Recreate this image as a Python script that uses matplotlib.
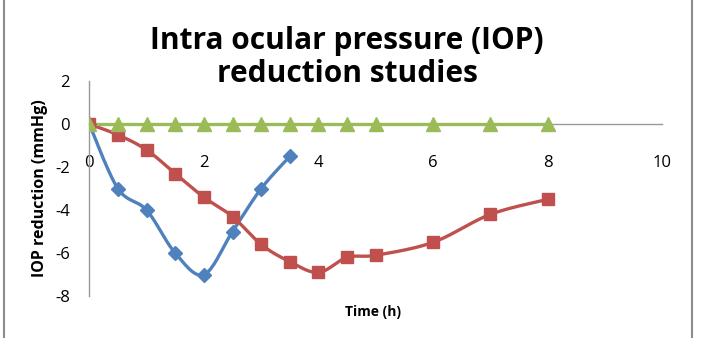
import matplotlib
matplotlib.use("Agg")
import matplotlib.pyplot as plt
import numpy as np
from matplotlib.patches import Rectangle

# data
t_blue = [0, 0.5, 1, 1.5, 2, 2.5, 3, 3.5]
iop_blue = [0, -3, -4, -6, -7, -5, -3, -1.5]

t_red = [0, 0.5, 1, 1.5, 2, 2.5, 3, 3.5, 4, 4.5, 5, 6, 7, 8]
iop_red = [0, -0.5, -1.2, -2.3, -3.4, -4.3, -5.6, -6.4, -6.9, -6.2, -6.1, -5.5, -4.2, -3.5]

t_green = [0, 0.5, 1, 1.5, 2, 2.5, 3, 3.5, 4, 4.5, 5, 6, 7, 8]
iop_green = [0, 0, 0, 0, 0, 0, 0, 0, 0, 0, 0, 0, 0, 0]

x_ticks = [0, 2, 4, 6, 8, 10]
y_ticks = [-8, -6, -4, -2, 0, 2]


def smooth(x, y, n=20):
    # catmull-rom curve through the points, like excel's smoothed line
    x = np.asarray(x, float)
    y = np.asarray(y, float)
    px = np.concatenate([[x[0]], x, [x[-1]]])
    py = np.concatenate([[y[0]], y, [y[-1]]])
    xs, ys = [], []
    s = np.linspace(0, 1, n, endpoint=False)
    for i in range(1, len(px) - 2):
        for p, out in ((px, xs), (py, ys)):
            p0, p1, p2, p3 = p[i - 1], p[i], p[i + 1], p[i + 2]
            m1 = (p2 - p0) / 2
            m2 = (p3 - p1) / 2
            h00 = 2 * s**3 - 3 * s**2 + 1
            h10 = s**3 - 2 * s**2 + s
            h01 = -2 * s**3 + 3 * s**2
            h11 = s**3 - s**2
            out.extend(h00 * p1 + h10 * m1 + h01 * p2 + h11 * m2)
    xs.append(x[-1])
    ys.append(y[-1])
    return xs, ys


plt.rcParams['font.family'] = ['Open Sans', 'DejaVu Sans']
plt.rcParams['axes.unicode_minus'] = False

fig = plt.figure(figsize=(7.03, 3.38), dpi=100)
ax = fig.add_axes([0.127, 0.124, 0.815, 0.636])

series = [
    (t_blue, iop_blue, '#4F81BD', 'D', 7.5),
    (t_red, iop_red, '#C0504D', 's', 9),
    (t_green, iop_green, '#9BBB59', '^', 9.5),
]
for x, y, c, m, ms in series:
    sx, sy = smooth(x, y)
    ax.plot(sx, sy, color=c, lw=2.4, zorder=3)
    ax.plot(x, y, ls='none', marker=m, ms=ms, color=c, zorder=4)

ax.set_xlim(0, 10)
ax.set_ylim(-8, 2)
ax.set_xticks(x_ticks)
ax.set_yticks(y_ticks)
ax.spines['top'].set_visible(False)
ax.spines['right'].set_visible(False)
ax.spines['bottom'].set_position(('data', 0))
for sp in ('left', 'bottom'):
    ax.spines[sp].set_color('#999999')
    ax.spines[sp].set_linewidth(1)
ax.tick_params(length=0, labelsize=12)
ax.tick_params(axis='x', pad=22)
ax.tick_params(axis='y', pad=14)
ax.set_xlabel('Time (h)', fontsize=10, fontweight='bold', va='center')
ax.xaxis.set_label_coords(0.495, -0.075)
ax.set_ylabel('IOP reduction (mmHg)', fontsize=11.5, fontweight='bold',
              va='center')
ax.yaxis.set_label_coords(-0.086, 0.5)

fig.text(0.494, 0.83, 'Intra ocular pressure (IOP)\nreduction studies',
         ha='center', va='center', fontsize=21.5, fontweight='bold',
         linespacing=1.15)

fig.patches.append(Rectangle((4 / 703, -0.01), 688 / 703, 1.02,
                             transform=fig.transFigure, fill=False,
                             edgecolor='#8c8c8c', lw=1.5))

fig.savefig('out.png', dpi=100)
